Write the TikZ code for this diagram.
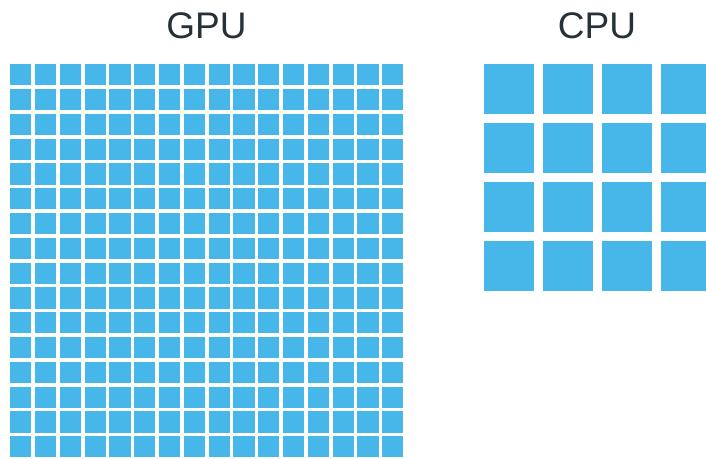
\documentclass[tikz,border=0pt]{standalone}
\usepackage{fontspec}
\setmainfont{Liberation Sans}
\definecolor{cell}{RGB}{71,182,232}
\definecolor{ink}{RGB}{38,50,56}
\begin{document}
\begin{tikzpicture}[x=1pt,y=-1pt,
  gcell/.style={fill=cell,draw=none,minimum size=21.2pt,inner sep=0pt,anchor=north west},
  ccell/.style={fill=cell,draw=none,minimum size=50pt,inner sep=0pt,anchor=north west},
  title/.style={text=ink,font=\fontsize{37}{40}\selectfont,anchor=base,inner sep=0pt}]
\useasboundingbox (0,0) rectangle (706,458);
\begin{scope}
\clip (0,0) rectangle (706,458);
\foreach \i in {0,...,15}{
  \foreach \j in {0,...,15}{
    \node[gcell] (g\i-\j) at ({10+24.8*\i},{64+24.8*\j}) {};
  }
}
\foreach \i in {0,...,3}{
  \foreach \j in {0,...,3}{
    \node[ccell] (c\i-\j) at ({484+59*\i},{64+59*\j}) {};
  }
}
\end{scope}
\node[title] (gpu) at (206.5,38.3) {GPU};
\node[title] (cpu) at (597,38.3) {CPU};
\end{tikzpicture}
\end{document}
